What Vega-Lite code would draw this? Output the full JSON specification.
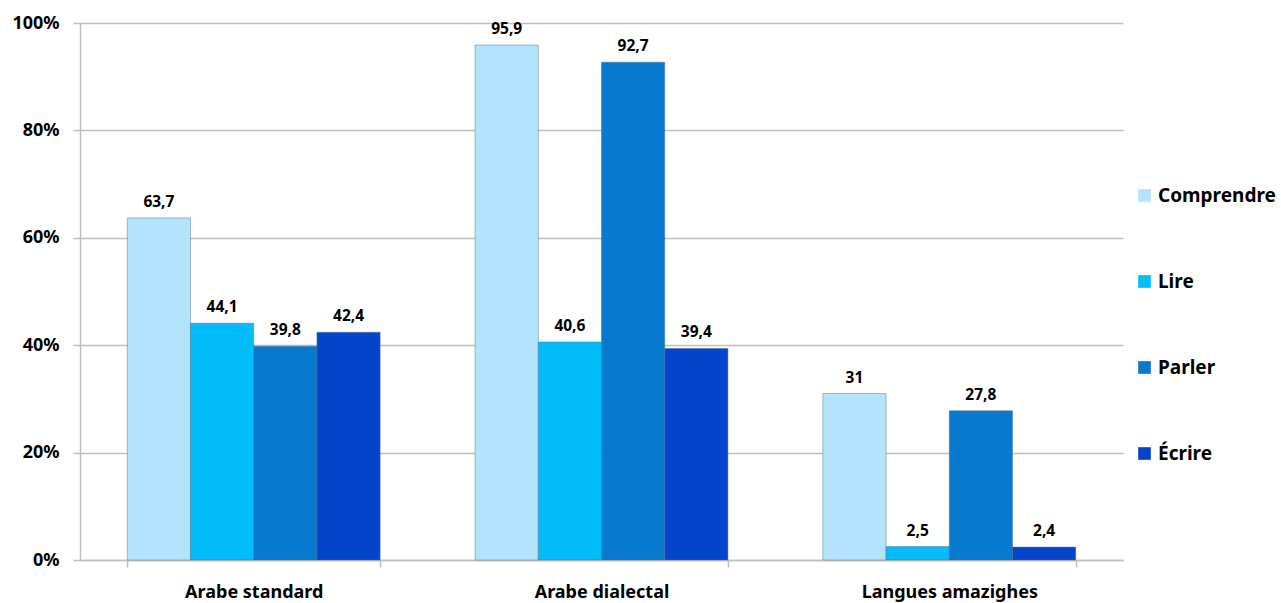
{
  "$schema": "https://vega.github.io/schema/vega-lite/v6.json",
  "autosize": "none",
  "width": 1043,
  "height": 537,
  "padding": {"left": 80, "top": 23, "right": 158, "bottom": 43},
  "background": "white",
  "config": {
    "view": {"stroke": null},
    "font": "Noto Sans",
    "locale": {"number": {"decimal": ",", "thousands": " ", "grouping": [3], "currency": ["", " €"]}}
  },
  "data": {
    "values": [
      {"langue": "Arabe standard", "competence": "Comprendre", "valeur": 63.7},
      {"langue": "Arabe standard", "competence": "Lire", "valeur": 44.1},
      {"langue": "Arabe standard", "competence": "Parler", "valeur": 39.8},
      {"langue": "Arabe standard", "competence": "Écrire", "valeur": 42.4},
      {"langue": "Arabe dialectal", "competence": "Comprendre", "valeur": 95.9},
      {"langue": "Arabe dialectal", "competence": "Lire", "valeur": 40.6},
      {"langue": "Arabe dialectal", "competence": "Parler", "valeur": 92.7},
      {"langue": "Arabe dialectal", "competence": "Écrire", "valeur": 39.4},
      {"langue": "Langues amazighes", "competence": "Comprendre", "valeur": 31},
      {"langue": "Langues amazighes", "competence": "Lire", "valeur": 2.5},
      {"langue": "Langues amazighes", "competence": "Parler", "valeur": 27.8},
      {"langue": "Langues amazighes", "competence": "Écrire", "valeur": 2.4}
    ]
  },
  "encoding": {
    "x": {
      "field": "langue",
      "type": "nominal",
      "sort": null,
      "title": null,
      "scale": {"paddingInner": 0.273, "paddingOuter": 0.136},
      "axis": {
        "labelAngle": 0,
        "labelFont": "Noto Sans",
        "labelFontSize": 18,
        "labelFontWeight": "bold",
        "labelColor": "#000000",
        "labelPadding": 16,
        "domainColor": "#BFBFBF",
        "domainWidth": 1.5,
        "tickColor": "#BFBFBF",
        "tickWidth": 1.5,
        "tickSize": 7,
        "tickBand": "extent",
        "grid": false
      }
    },
    "xOffset": {
      "field": "competence",
      "type": "nominal",
      "sort": ["Comprendre", "Lire", "Parler", "Écrire"],
      "scale": {"paddingInner": 0, "paddingOuter": 0}
    },
    "y": {
      "field": "valeur",
      "type": "quantitative",
      "title": null,
      "scale": {"domain": [0, 100], "nice": false},
      "axis": {
        "values": [0, 20, 40, 60, 80, 100],
        "labelExpr": "datum.value + '%'",
        "labelFont": "Noto Sans",
        "labelFontSize": 18,
        "labelFontWeight": "bold",
        "labelColor": "#000000",
        "labelPadding": 14,
        "domainColor": "#BFBFBF",
        "domainWidth": 1.5,
        "tickColor": "#BFBFBF",
        "tickWidth": 1.5,
        "tickSize": 7,
        "gridColor": "#BFBFBF",
        "gridWidth": 1.5
      }
    }
  },
  "layer": [
    {
      "mark": {"type": "bar", "stroke": "#4a6f90", "strokeOpacity": 0.45, "strokeWidth": 1},
      "encoding": {
        "color": {
          "field": "competence",
          "type": "nominal",
          "sort": ["Comprendre", "Lire", "Parler", "Écrire"],
          "title": null,
          "scale": {
            "domain": ["Comprendre", "Lire", "Parler", "Écrire"],
            "range": ["#B4E4FD", "#02BDF9", "#0779CF", "#0545CC"]
          },
          "legend": {
            "orient": "none",
            "legendX": 1055,
            "legendY": 163,
            "symbolType": "square",
            "symbolSize": 160,
            "symbolStrokeWidth": 0,
            "labelFont": "Noto Sans",
            "labelFontSize": 19,
            "labelFontWeight": "bold",
            "labelColor": "#000000",
            "labelOffset": 4,
            "rowPadding": 66,
            "labelLimit": 200
          }
        }
      }
    },
    {
      "mark": {"type": "text", "baseline": "bottom", "dy": -8, "font": "Noto Sans", "fontSize": 15.5, "fontWeight": "bold", "color": "#000000"},
      "encoding": {
        "text": {"field": "valeur", "type": "quantitative", "format": "~g"}
      }
    }
  ]
}
